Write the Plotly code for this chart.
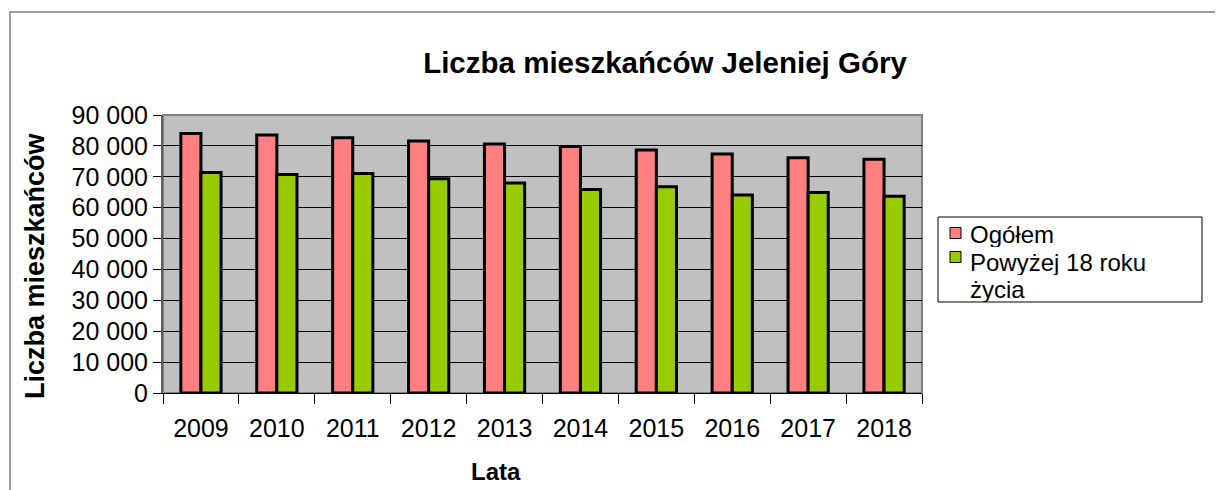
import plotly.graph_objects as go

years = ["2009", "2010", "2011", "2012", "2013", "2014", "2015", "2016", "2017", "2018"]
ogolem = [84000, 83500, 82600, 81600, 80600, 79800, 78700, 77400, 76200, 75700]
powyzej18 = [71400, 70700, 71100, 69400, 68000, 65900, 66800, 64100, 64900, 63700]
series_names = ["Ogółem", "Powyżej 18 roku<br>życia"]
series_colors = ["#FF8080", "#99CC00"]
title_text = "Liczba mieszkańców Jeleniej Góry"
y_title = "Liczba mieszkańców"
x_title = "Lata"

FONT = "Liberation Sans, Arial, sans-serif"
OFF = 8  # page offset of the figure inside the window
W, H = 1223 - OFF, 490 - OFF
# plot area in window pixels
PX0, PX1, PY0, PY1 = 163, 922, 115, 393
L, T = PX0 - OFF, PY0 - OFF
R, B = W - (PX1 - OFF), H - (PY1 - OFF)
pw = PX1 - PX0
ph = PY1 - PY0

def px2x(px):
    return (px - PX0) / pw

def py2y(py):
    return (PY1 - py) / ph

fig = go.Figure()
fig.add_trace(go.Bar(x=years, y=ogolem, name=series_names[0], showlegend=False,
                     marker=dict(color=series_colors[0], line=dict(color="black", width=3))))
fig.add_trace(go.Bar(x=years, y=powyzej18, name=series_names[1], showlegend=False,
                     marker=dict(color=series_colors[1], line=dict(color="black", width=3))))

shapes = [
    dict(type="rect", xref="paper", yref="paper", x0=0, x1=1, y0=0, y1=1,
         line=dict(color="#808080", width=2), layer="below"),
    dict(type="rect", xref="paper", yref="paper", x0=px2x(10), x1=px2x(1300),
         y0=py2y(560), y1=py2y(12), line=dict(color="#808080", width=1.5),
         layer="below"),
    # legend box
    dict(type="rect", xref="paper", yref="paper", x0=px2x(938), x1=px2x(1202),
         y0=py2y(302), y1=py2y(217), line=dict(color="black", width=1),
         fillcolor="white", layer="below"),
]
annotations = [
    dict(text="<b>" + y_title + "</b>", xref="paper", yref="paper",
         x=px2x(35), y=py2y(266), textangle=-90, showarrow=False,
         xanchor="center", yanchor="middle", font=dict(size=27, family=FONT)),
    dict(text="<b>" + x_title + "</b>", xref="paper", yref="paper",
         x=px2x(496), y=py2y(471), showarrow=False,
         xanchor="center", yanchor="middle", font=dict(size=24, family=FONT)),
]
# legend entries (swatch + one annotation per text line)
swatch_y = [233, 257]
line_y = [[234], [262, 289]]
for i, (name, col) in enumerate(zip(series_names, series_colors)):
    cy = swatch_y[i]
    shapes.append(dict(type="rect", xref="paper", yref="paper",
                       x0=px2x(950), x1=px2x(961), y0=py2y(cy + 5.5), y1=py2y(cy - 5.5),
                       fillcolor=col, line=dict(color="black", width=1)))
    for part, ly in zip(name.split("<br>"), line_y[i]):
        annotations.append(dict(text=part, xref="paper", yref="paper",
                                x=px2x(969), y=py2y(ly), showarrow=False,
                                xanchor="left", yanchor="middle", align="left",
                                height=26, borderpad=0,
                                font=dict(size=24, family=FONT)))

fig.update_layout(
    width=W, height=H,
    margin=dict(l=L, r=R, t=T, b=B, autoexpand=False),
    paper_bgcolor="white",
    plot_bgcolor="#C0C0C0",
    barmode="group",
    bargap=0.47,
    bargroupgap=0,
    separators=", ",
    showlegend=False,
    font=dict(family=FONT, size=25, color="black"),
    title=dict(text="<b>" + title_text + "</b>", xref="container", yref="container",
               x=(665 - OFF) / W, y=1 - (63 - OFF) / H, xanchor="center", yanchor="middle",
               font=dict(size=29.5, family=FONT, color="black")),
    xaxis=dict(showgrid=False, ticks="outside", ticklen=10, tickcolor="black",
               tickson="boundaries", showline=True, linecolor="black", linewidth=1,
               tickfont=dict(size=25), ticklabelstandoff=13),
    yaxis=dict(range=[0, 90000], dtick=10000, tickformat=",d",
               showgrid=True, gridcolor="black", gridwidth=1,
               ticks="outside", ticklen=8, tickcolor="black",
               showline=True, linecolor="#606060", linewidth=2,
               tickfont=dict(size=25), zeroline=False),
    shapes=shapes,
    annotations=annotations,
)

fig.write_html("out.html")
